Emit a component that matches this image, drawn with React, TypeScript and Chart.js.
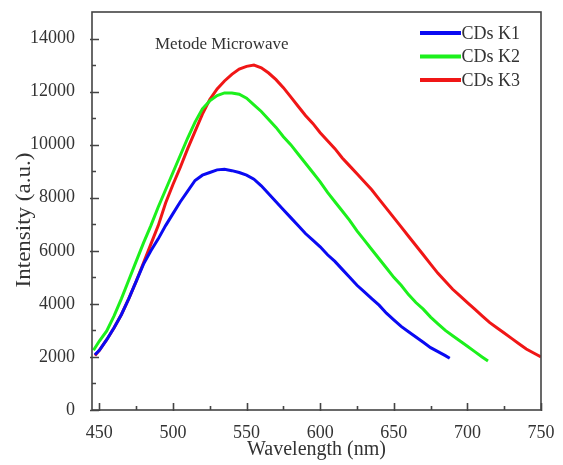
import { useEffect, useRef } from "react";
import { Chart, registerables } from "chart.js";

Chart.register(...registerables);

// ---- data ----
const k1Wavelength = [447, 450, 455, 460, 465, 470, 475, 480, 485, 490, 495, 500, 505, 510, 515, 520, 525, 530, 535, 540, 545, 550, 555, 560, 565, 570, 575, 580, 585, 590, 595, 600, 605, 610, 615, 620, 625, 630, 635, 640, 645, 650, 655, 660, 665, 670, 675, 680, 685, 688];
const k1Intensity = [2080, 2250, 2650, 3100, 3600, 4200, 4850, 5500, 6000, 6450, 6950, 7400, 7850, 8250, 8650, 8850, 8950, 9050, 9070, 9020, 8950, 8850, 8700, 8450, 8150, 7850, 7550, 7250, 6950, 6650, 6400, 6150, 5850, 5600, 5300, 5000, 4700, 4450, 4200, 3950, 3650, 3400, 3150, 2950, 2750, 2550, 2350, 2200, 2050, 1950];

const k2Wavelength = [446, 450, 455, 460, 465, 470, 475, 480, 485, 490, 495, 500, 505, 510, 515, 520, 525, 530, 535, 540, 545, 550, 555, 560, 565, 570, 575, 580, 585, 590, 595, 600, 605, 610, 615, 620, 625, 630, 635, 640, 645, 650, 655, 660, 665, 670, 675, 680, 685, 690, 695, 700, 705, 710, 714];
const k2Intensity = [2250, 2600, 2980, 3550, 4200, 4900, 5600, 6300, 6950, 7650, 8300, 8950, 9600, 10250, 10850, 11350, 11650, 11850, 11950, 11950, 11900, 11750, 11500, 11250, 10950, 10650, 10300, 10000, 9650, 9300, 8950, 8600, 8200, 7850, 7500, 7150, 6750, 6400, 6050, 5700, 5350, 5000, 4700, 4350, 4050, 3800, 3500, 3250, 3000, 2800, 2600, 2400, 2200, 2000, 1850];

const k3Wavelength = [447, 450, 455, 460, 465, 470, 475, 480, 485, 490, 495, 500, 505, 510, 515, 520, 525, 530, 535, 540, 545, 550, 555, 560, 565, 570, 575, 580, 585, 590, 595, 600, 605, 610, 615, 620, 625, 630, 635, 640, 645, 650, 655, 660, 665, 670, 675, 680, 685, 690, 695, 700, 705, 710, 715, 720, 725, 730, 735, 740, 745, 750];
const k3Intensity = [2050, 2250, 2650, 3100, 3600, 4200, 4850, 5550, 6250, 6950, 7800, 8500, 9150, 9850, 10500, 11150, 11700, 12100, 12400, 12650, 12850, 12950, 13000, 12900, 12700, 12450, 12150, 11800, 11450, 11100, 10800, 10450, 10150, 9850, 9500, 9200, 8900, 8600, 8300, 7950, 7600, 7250, 6900, 6550, 6200, 5850, 5500, 5150, 4850, 4550, 4300, 4050, 3800, 3550, 3300, 3100, 2900, 2700, 2500, 2300, 2150, 2000];

const seriesLabels = ["CDs K1", "CDs K2", "CDs K3"];
const seriesColors = ["#0a0af2", "#1cf01c", "#f01616"];

const xTickValues = [450, 500, 550, 600, 650, 700, 750];
const xMinorTickValues = [475, 525, 575, 625, 675, 725];
const yTickValues = [0, 2000, 4000, 6000, 8000, 10000, 12000, 14000];
const yMinorTickValues = [1000, 3000, 5000, 7000, 9000, 11000, 13000];

const xTitle = "Wavelength (nm)";
const yTitle = "Intensity (a.u.)";
const noteText = "Metode Microwave";

const FONT = "'Liberation Serif', 'Times New Roman', serif";
const AXIS_COLOR = "#444";
const TEXT_COLOR = "#333";

const toPoints = (xs: number[], ys: number[]) => xs.map((x, i) => ({ x, y: ys[i] }));

const decorPlugin = {
  id: "decor",
  afterDraw(chart: any) {
    const { ctx, chartArea: a } = chart;
    const xs = chart.scales.x;
    const ys = chart.scales.y;
    ctx.save();
    // frame
    ctx.strokeStyle = AXIS_COLOR;
    ctx.lineWidth = 1.6;
    ctx.strokeRect(a.left, a.top, a.right - a.left, a.bottom - a.top);
    // ticks (inward)
    ctx.beginPath();
    yTickValues.forEach((v) => {
      const p = Math.round(ys.getPixelForValue(v)) + 0.5;
      ctx.moveTo(a.left - 2, p);
      ctx.lineTo(a.left + 7, p);
    });
    yMinorTickValues.forEach((v) => {
      const p = Math.round(ys.getPixelForValue(v)) + 0.5;
      ctx.moveTo(a.left, p);
      ctx.lineTo(a.left + 4, p);
    });
    xTickValues.forEach((v) => {
      const p = Math.round(xs.getPixelForValue(v)) + 0.5;
      ctx.moveTo(p, a.bottom + 1);
      ctx.lineTo(p, a.bottom - 7);
    });
    xMinorTickValues.forEach((v) => {
      const p = Math.round(xs.getPixelForValue(v)) + 0.5;
      ctx.moveTo(p, a.bottom);
      ctx.lineTo(p, a.bottom - 4);
    });
    ctx.stroke();

    // axis titles
    ctx.fillStyle = TEXT_COLOR;
    ctx.textAlign = "center";
    ctx.textBaseline = "middle";
    ctx.font = `20px ${FONT}`;
    ctx.fillText(xTitle, (a.left + a.right) / 2, 450);

    ctx.save();
    ctx.translate(25, 220);
    ctx.rotate(-Math.PI / 2);
    ctx.scale(1.15, 1);
    ctx.fillText(yTitle, 0, 0);
    ctx.restore();

    // note
    ctx.textAlign = "left";
    ctx.font = `17px ${FONT}`;
    ctx.fillText(noteText, 155, 45);

    // legend
    ctx.font = `18px ${FONT}`;
    chart.data.datasets.forEach((ds: any, i: number) => {
      const yy = 33 + i * 23.5;
      ctx.strokeStyle = ds.borderColor;
      ctx.lineWidth = 4;
      ctx.beginPath();
      ctx.moveTo(420, yy);
      ctx.lineTo(461, yy);
      ctx.stroke();
      ctx.fillStyle = TEXT_COLOR;
      ctx.fillText(ds.label, 461.5, yy + 1);
    });
    ctx.restore();
  },
};

export default function App() {
  const ref = useRef<HTMLCanvasElement | null>(null);
  useEffect(() => {
    if (!ref.current) return;
    const series = [
      toPoints(k1Wavelength, k1Intensity),
      toPoints(k2Wavelength, k2Intensity),
      toPoints(k3Wavelength, k3Intensity),
    ];
    const chart = new Chart(ref.current, {
      type: "line",
      data: {
        datasets: series.map((d, i) => ({
          label: seriesLabels[i],
          data: d,
          borderColor: seriesColors[i],
          backgroundColor: seriesColors[i],
          borderWidth: 3,
          pointRadius: 0,
          tension: 0,
          fill: false,
        })),
      },
      options: {
        animation: false,
        responsive: true,
        maintainAspectRatio: false,
        layout: { padding: { top: 12, right: 22, left: 0, bottom: 0 } },
        plugins: { legend: { display: false }, tooltip: { enabled: false }, title: { display: false } },
        scales: {
          x: {
            type: "linear",
            min: 445,
            max: 750,
            grid: { display: false },
            border: { display: false },
            afterBuildTicks: (s: any) => {
              s.ticks = xTickValues.map((v) => ({ value: v }));
            },
            afterFit: (s: any) => {
              s.height = 55;
              s.paddingLeft = 0;
              s.paddingRight = 0;
            },
            ticks: {
              autoSkip: false,
              maxRotation: 0,
              padding: 4,
              color: TEXT_COLOR,
              font: { family: FONT, size: 18 },
              callback: (v: any) => String(v),
            },
          },
          y: {
            type: "linear",
            min: 0,
            max: 15000,
            grid: { display: false },
            border: { display: false },
            afterBuildTicks: (s: any) => {
              s.ticks = yTickValues.map((v) => ({ value: v }));
            },
            afterFit: (s: any) => {
              s.width = 92;
              s.paddingTop = 0;
              s.paddingBottom = 0;
            },
            ticks: {
              autoSkip: false,
              padding: 9,
              color: TEXT_COLOR,
              font: { family: FONT, size: 18 },
              callback: (v: any) => String(v),
            },
          },
        },
      },
      plugins: [decorPlugin],
    });
    return () => chart.destroy();
  }, []);
  return (
    <div style={{ position: "absolute", left: 0, top: 0, width: 563, height: 465, background: "#fff" }}>
      <canvas ref={ref} />
    </div>
  );
}
